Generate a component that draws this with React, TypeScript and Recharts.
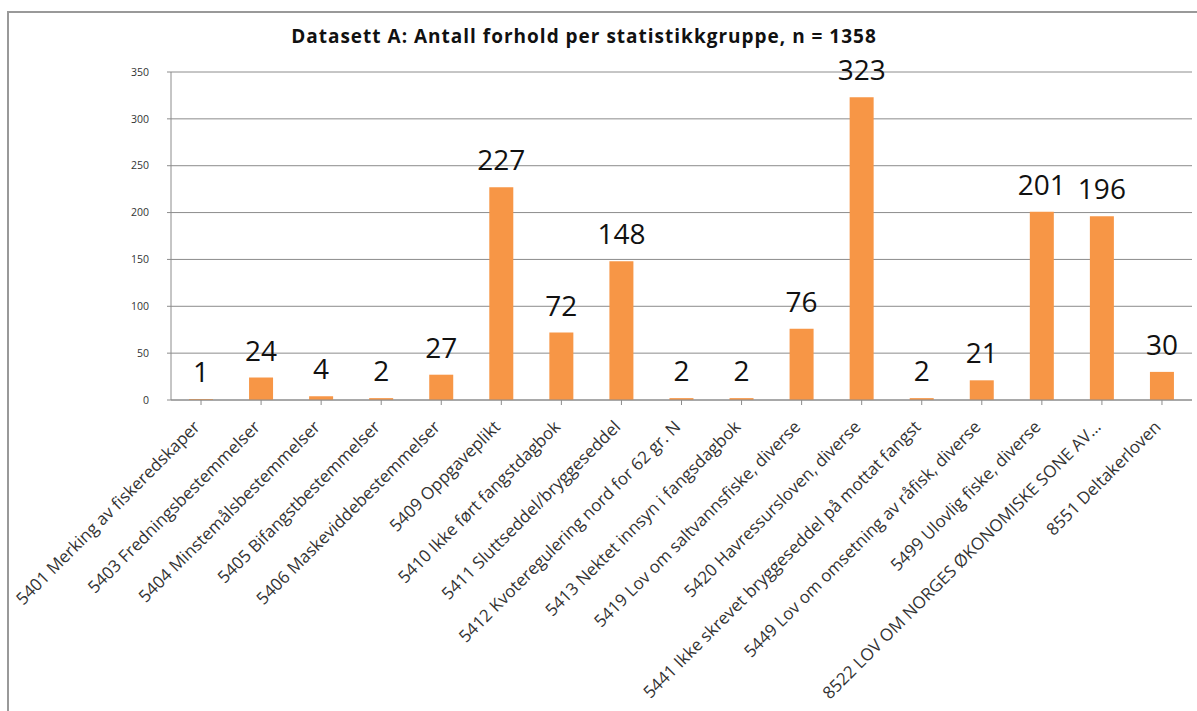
import React from 'react';
import { BarChart, Bar, XAxis, YAxis, CartesianGrid, LabelList } from 'recharts';

const categories: string[] = [
  '5401 Merking av fiskeredskaper',
  '5403 Fredningsbestemmelser',
  '5404 Minstemålsbestemmelser',
  '5405 Bifangstbestemmelser',
  '5406 Maskeviddebestemmelser',
  '5409 Oppgaveplikt',
  '5410 Ikke ført fangstdagbok',
  '5411 Sluttseddel/bryggeseddel',
  '5412 Kvoteregulering nord for 62 gr. N',
  '5413 Nektet innsyn i fangsdagbok',
  '5419 Lov om saltvannsfiske, diverse',
  '5420 Havressursloven, diverse',
  '5441 Ikke skrevet bryggeseddel på mottat fangst',
  '5449 Lov om omsetning av råfisk, diverse',
  '5499 Ulovlig fiske, diverse',
  '8522 LOV OM NORGES ØKONOMISKE SONE AV…',
  '8551 Deltakerloven',
];

const counts: number[] = [1, 24, 4, 2, 27, 227, 72, 148, 2, 2, 76, 323, 2, 21, 201, 196, 30];

const yTicks: number[] = [0, 50, 100, 150, 200, 250, 300, 350];

const title = 'Datasett A: Antall forhold per statistikkgruppe, n = 1358';

const data = categories.map((name, i) => ({ name, value: counts[i] }));

const FONT = '"Open Sans", sans-serif';

const XTick = (props: any) => {
  const { x, y, payload } = props;
  const ax = x;
  const ay = y + 21;
  return (
    <text
      x={ax}
      y={ay}
      textAnchor="end"
      transform={`rotate(-45, ${ax}, ${ay})`}
      fontFamily={FONT}
      fontSize={17}
      fill="#333"
    >
      {payload.value}
    </text>
  );
};

export default function App() {
  return (
    <div style={{ position: 'absolute', left: 0, top: 0, width: 1197, height: 711, background: '#fff', overflow: 'hidden' }}>
      <div
        style={{
          position: 'absolute',
          left: 7,
          top: 11,
          width: 1190,
          height: 700,
          borderTop: '2px solid #999',
          borderLeft: '2px solid #999',
          boxSizing: 'border-box',
        }}
      />
      <div
        style={{
          position: 'absolute',
          left: 234,
          width: 700,
          top: 23,
          textAlign: 'center',
          fontFamily: FONT,
          fontWeight: 700,
          fontSize: 19,
          letterSpacing: 1,
          color: '#111',
          whiteSpace: 'nowrap',
        }}
      >
        {title}
      </div>
      <div style={{ position: 'absolute', left: 0, top: 0 }}>
        <BarChart
          width={1197}
          height={711}
          data={data}
          margin={{ top: 72, right: 5, bottom: 31, left: 111 }}
        >
          <CartesianGrid vertical={false} stroke="#8c8c8c" strokeWidth={1} />
          <XAxis
            dataKey="name"
            interval={0}
            height={280}
            tick={<XTick />}
            tickLine={{ stroke: '#8c8c8c' }}
            tickSize={5}
            axisLine={{ stroke: '#8c8c8c' }}
            scale="band"
          />
          <YAxis
            width={60}
            domain={[0, 350]}
            ticks={yTicks}
            interval={0}
            tickSize={4}
            tickMargin={18}
            tick={{ fontFamily: FONT, fontSize: 10.5, fill: '#333' }}
            tickLine={{ stroke: '#8c8c8c' }}
            axisLine={{ stroke: '#8c8c8c' }}
          />
          <Bar dataKey="value" fill="#F79646" barSize={24} isAnimationActive={false}>
            <LabelList
              dataKey="value"
              position="top"
              offset={17}
              style={{ fontFamily: FONT, fontSize: 28, fill: '#111' }}
            />
          </Bar>
        </BarChart>
      </div>
    </div>
  );
}
